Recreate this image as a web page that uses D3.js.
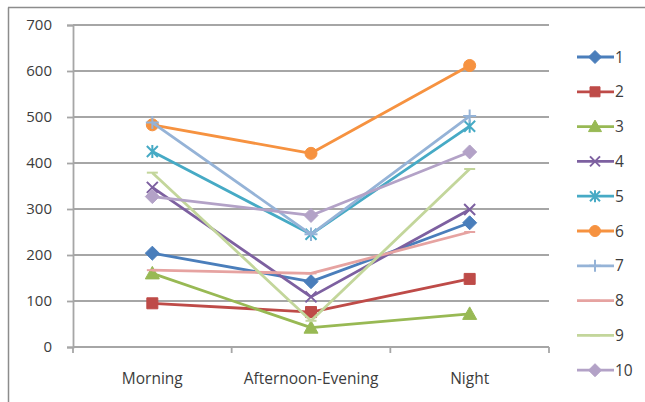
<!DOCTYPE html>
<html>
<head>
<meta charset="utf-8">
<script src="https://cdn.jsdelivr.net/npm/d3@7"></script>
<style>
  html, body { margin: 0; padding: 0; background: #fff; }
  svg { display: block; }
  text { font-family: "Open Sans", "Liberation Sans", sans-serif; fill: #3c3c3c; }
</style>
</head>
<body>
<svg id="chart" width="645" height="402"></svg>
<script>
// Time-of-day categories and y-axis ticks
const categories = ["Morning", "Afternoon-Evening", "Night"];
const yTicks = [0, 100, 200, 300, 400, 500, 600, 700];

// One value list per series (Morning, Afternoon-Evening, Night)
const seriesNames = ["1", "2", "3", "4", "5", "6", "7", "8", "9", "10"];
const s1  = [204, 142, 270];
const s2  = [95, 76, 148];
const s3  = [160, 42, 72];
const s4  = [347, 109, 299];
const s5  = [425, 245, 480];
const s6  = [483, 421, 612];
const s7  = [488, 245, 502];
const s8  = [167, 160, 250];
const s9  = [379, 57, 387];
const s10 = [327, 286, 424];
const seriesValues = [s1, s2, s3, s4, s5, s6, s7, s8, s9, s10];

const colors = ["#4a7ebb", "#be4b48", "#98b954", "#7d60a0", "#46aac5",
                "#f69240", "#95b3d7", "#e6a3a1", "#c3d69b", "#b3a2c7"];
const markers = ["diamond", "square", "triangle", "x", "asterisk",
                 "circle", "plus", "dash", "dash", "diamond"];

const svg = d3.select("#chart");

// Frame lines
svg.append("line").attr("x1", 8.5).attr("y1", 7.5).attr("x2", 8.5).attr("y2", 402)
  .attr("stroke", "#8c8c8c").attr("stroke-width", 1.5);
svg.append("line").attr("x1", 8).attr("y1", 7.5).attr("x2", 645).attr("y2", 7.5)
  .attr("stroke", "#8c8c8c").attr("stroke-width", 1.5);

const plot = { left: 73, right: 549, top: 25, bottom: 347 };

const x = d3.scaleBand().domain(categories).range([plot.left, plot.right]).padding(0);
const y = d3.scaleLinear().domain([0, 700]).range([plot.bottom, plot.top]);
const cx = c => x(c) + x.bandwidth() / 2;

const gridColor = "#a6a6a6";

// Horizontal gridlines
svg.append("g").selectAll("line")
  .data(yTicks.filter(t => t > 0))
  .join("line")
  .attr("x1", plot.left).attr("x2", plot.right)
  .attr("y1", d => y(d)).attr("y2", d => y(d))
  .attr("stroke", gridColor).attr("stroke-width", 1.8);

// Y axis
const yAxis = svg.append("g")
  .attr("transform", `translate(${plot.left},0)`)
  .call(d3.axisLeft(y).tickValues(yTicks).tickSize(6).tickPadding(15));
yAxis.select(".domain").attr("stroke", gridColor).attr("stroke-width", 1.8);
yAxis.selectAll(".tick line").attr("stroke", gridColor).attr("stroke-width", 1.8);
yAxis.selectAll(".tick text")
  .attr("font-size", 15).attr("fill", "#3c3c3c")
  .style("font-family", "'Open Sans', 'Liberation Sans', sans-serif");

// X axis with tick marks at category boundaries
const xAxisG = svg.append("g");
xAxisG.append("line")
  .attr("x1", plot.left).attr("x2", plot.right)
  .attr("y1", plot.bottom).attr("y2", plot.bottom)
  .attr("stroke", gridColor).attr("stroke-width", 1.8);
const boundaries = categories.map(c => x(c)).concat([x(categories[categories.length - 1]) + x.bandwidth()]);
xAxisG.selectAll("line.tk")
  .data(boundaries)
  .join("line").attr("class", "tk")
  .attr("x1", d => d).attr("x2", d => d)
  .attr("y1", plot.bottom).attr("y2", plot.bottom + 6)
  .attr("stroke", gridColor).attr("stroke-width", 1.8);
xAxisG.selectAll("text")
  .data(categories)
  .join("text")
  .attr("x", d => cx(d)).attr("y", 384)
  .attr("text-anchor", "middle")
  .attr("font-size", 15.5)
  .text(d => d);

// Marker shapes
function markerPath(type, s) {
  const h = s / 2;
  switch (type) {
    case "diamond": return `M0,${-h - 1.5}L${h + 1.5},0L0,${h + 1.5}L${-h - 1.5},0Z`;
    case "square": return `M${-h},${-h}H${h}V${h}H${-h}Z`;
    case "triangle": return `M0,${-h - 1.5}L${h + 1.5},${h}L${-h - 1.5},${h}Z`;
    case "circle": return d3.symbol(d3.symbolCircle, Math.PI * (h + 0.5) * (h + 0.5))();
    case "x": return `M${-h},${-h}L${h},${h}M${h},${-h}L${-h},${h}`;
    case "asterisk": return `M${-h},${-h}L${h},${h}M${h},${-h}L${-h},${h}M0,${-h - 1}L0,${h + 1}`;
    case "plus": return `M${-h - 1},0H${h + 1}M0,${-h - 1}V${h + 1}`;
    case "dash": return `M${-h},0H${h}`;
  }
}
const filled = t => ["diamond", "square", "triangle", "circle"].includes(t);

function drawMarker(g, type, color, px, py, size) {
  g.append("path")
    .attr("d", markerPath(type, size))
    .attr("transform", `translate(${px},${py})`)
    .attr("fill", filled(type) ? color : "none")
    .attr("stroke", color)
    .attr("stroke-width", filled(type) ? 1 : 2);
}

// Series lines and markers
const line = d3.line().x(d => cx(d.c)).y(d => y(d.v));
seriesValues.forEach((vals, i) => {
  const pts = categories.map((c, j) => ({ c, v: vals[j] }));
  const g = svg.append("g");
  g.append("path")
    .datum(pts)
    .attr("d", line)
    .attr("fill", "none")
    .attr("stroke", colors[i])
    .attr("stroke-width", 2.8)
    .attr("stroke-linejoin", "round");
  pts.forEach(p => drawMarker(g, markers[i], colors[i], cx(p.c), y(p.v), 11));
});

// Legend
const legend = svg.append("g");
seriesNames.forEach((name, i) => {
  const ly = 57 + i * 34.8;
  const g = legend.append("g");
  g.append("line")
    .attr("x1", 577).attr("x2", 614).attr("y1", ly).attr("y2", ly)
    .attr("stroke", colors[i]).attr("stroke-width", 2.8);
  drawMarker(g, markers[i], colors[i], 595, ly, 10);
  g.append("text")
    .attr("x", 615).attr("y", ly + 5.5)
    .attr("font-size", 15.5)
    .attr("fill", "#333")
    .text(name);
});
</script>
</body>
</html>
